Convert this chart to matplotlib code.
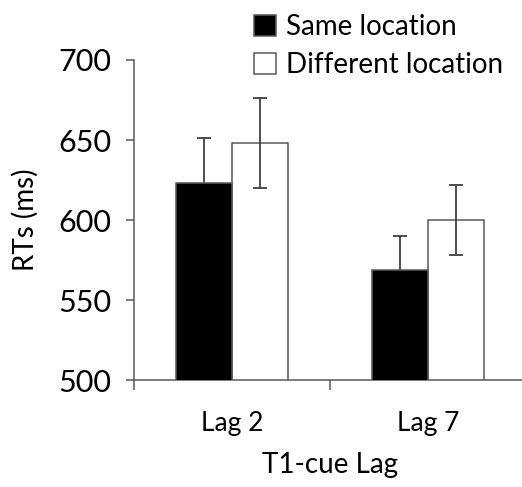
import numpy as np
import matplotlib
matplotlib.use("Agg")
import matplotlib.pyplot as plt

plt.rcParams['font.family'] = ['Lato', 'DejaVu Sans']

lags = ["Lag 2", "Lag 7"]
same_rt = [623, 569]
same_err = [28, 21]
diff_rt = [648, 600]
diff_err = [28, 22]

fig = plt.figure(figsize=(5.22, 4.87), dpi=100)
ax = fig.add_axes([0.2567, 0.2197, 0.751, 0.6571])

x = np.arange(len(lags))
w = 0.286
edge = "#595959"
ecol = "#404040"
b1 = ax.bar(x - w/2, same_rt, w, color="black", edgecolor=edge, linewidth=1.1,
            label="Same location", zorder=3)
b2 = ax.bar(x + w/2, diff_rt, w, color="white", edgecolor=edge, linewidth=1.1,
            label="Different location", zorder=2)
ax.errorbar(x - w/2, same_rt, yerr=same_err, fmt="none", ecolor=ecol,
            elinewidth=1.3, capsize=5, capthick=1.3, zorder=2)
ax.errorbar(x + w/2, diff_rt, yerr=diff_err, fmt="none", ecolor=ecol,
            elinewidth=1.3, capsize=5, capthick=1.3, zorder=4)

ax.set_ylim(500, 700)
ax.set_xlim(-0.5, 1.5)
ax.set_yticks([500, 550, 600, 650, 700])
ax.tick_params(axis="y", direction="out", length=6, width=1.1, color=edge,
               labelsize=22, pad=10)
ax.set_xticks([-0.5, 0.5, 1.5])
ax.set_xticklabels([])
ax.set_xticks(x, labels=lags, minor=True)
ax.tick_params(axis="x", which="major", direction="out", length=7, width=1.1, color=edge)
ax.tick_params(axis="x", which="minor", length=0, labelsize=19, pad=22)

for s in ["top", "right"]:
    ax.spines[s].set_visible(False)
for s in ["left", "bottom"]:
    ax.spines[s].set_color(edge)
    ax.spines[s].set_linewidth(1.1)

ax.set_ylabel("RTs (ms)", fontsize=20, labelpad=14)
ax.set_xlabel("T1-cue Lag", fontsize=20, labelpad=12)

fig.legend(handles=[b1, b2], loc="upper left", bbox_to_anchor=(0.455, 1.005),
           frameon=False, fontsize=20, handlelength=0.8, handleheight=0.8,
           handletextpad=0.35, labelspacing=0.42, borderaxespad=0.2)

fig.savefig("out.png", dpi=100)
